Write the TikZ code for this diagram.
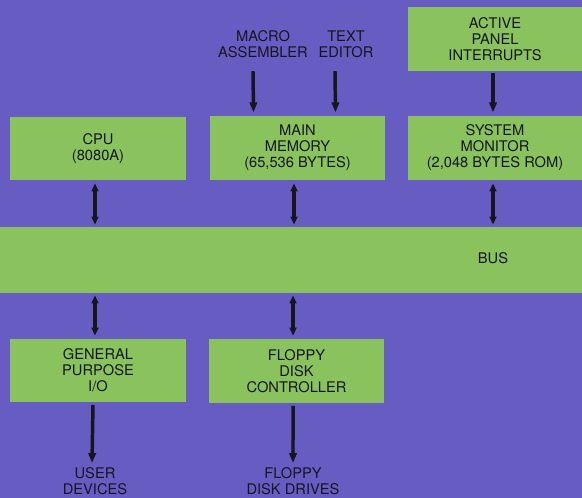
\documentclass[tikz,border=0pt]{standalone}
\usepackage{fontspec}
\setmainfont{TeX Gyre Heros}
\usetikzlibrary{arrows.meta}
\definecolor{bgblue}{RGB}{102,92,194}
\definecolor{boxgreen}{RGB}{138,194,94}
\definecolor{ink}{RGB}{22,22,32}
\begin{document}
\begin{tikzpicture}[x=0.75pt,y=-0.75pt,
  blk/.style={fill=boxgreen,draw=none,inner sep=0pt,align=center,text=ink,
    font=\fontsize{11}{12}\selectfont},
  lbl/.style={inner sep=0pt,align=center,text=ink,font=\fontsize{11}{12}\selectfont},
  ar/.style={draw=ink,line width=2.6pt,-{Triangle[length=7.5pt,width=5.5pt]}},
  dar/.style={draw=ink,line width=2.6pt,{Triangle[length=6pt,width=5pt]}-{Triangle[length=6pt,width=5pt]}}]
\fill[bgblue] (0,0) rectangle (582,498);
\useasboundingbox (0,0) rectangle (582,498);
% boxes
\node[blk,minimum width=132pt,minimum height=47.25pt] (cpu) at (98,148.5) {CPU\\(8080A)};
\node[blk,minimum width=131.25pt,minimum height=48pt] (mem) at (297.5,148) {MAIN\\MEMORY\\(65,536 BYTES)};
\node[blk,minimum width=130.5pt,minimum height=48pt] (mon) at (495,148) {SYSTEM\\MONITOR\\(2,048 BYTES ROM)};
\node[blk,minimum width=130.5pt,minimum height=48pt] (act) at (495,39) {ACTIVE\\PANEL\\INTERRUPTS};
\node[blk,minimum width=436.5pt,minimum height=49.5pt] (bus) at (291,260) {};
\node[lbl] (buslbl) at (493,258) {BUS};
\node[blk,minimum width=132pt,minimum height=47.25pt] (gpio) at (98,370.5) {GENERAL\\PURPOSE\\I/O};
\node[blk,minimum width=131.25pt,minimum height=48pt] (fdc) at (296.5,371) {FLOPPY\\DISK\\CONTROLLER};
% free labels
\node[lbl] (macro) at (263,44) {MACRO\\ASSEMBLER};
\node[lbl] (editor) at (346,44) {TEXT\\EDITOR};
\node[lbl] (user) at (95,481) {USER\\DEVICES};
\node[lbl] (drives) at (293,481) {FLOPPY\\DISK DRIVES};
% input arrows
\draw[ar] ([xshift=-7.5pt,yshift=-10pt]macro.south) -- ([xshift=-33pt,yshift=2.5pt]mem.north);
\draw[ar] ([xshift=-8.25pt,yshift=-10pt]editor.south) -- ([xshift=28.5pt,yshift=2.5pt]mem.north);
\draw[ar] ([xshift=-1.5pt,yshift=-1.5pt]act.south) -- ([xshift=-1.5pt,yshift=2.5pt]mon.north);
% bus connections
\draw[dar] ([xshift=-2.25pt,yshift=-2.25pt]cpu.south) -- ([xshift=-2.25pt,yshift=1.5pt]cpu.south |- bus.north);
\draw[dar] ([xshift=-2.6pt,yshift=-2.25pt]mem.south) -- ([xshift=-2.6pt,yshift=1.5pt]mem.south |- bus.north);
\draw[dar] ([xshift=-1.5pt,yshift=-2.25pt]mon.south) -- ([xshift=-1.5pt,yshift=1.5pt]mon.south |- bus.north);
\draw[dar] ([xshift=-2.25pt,yshift=-1.5pt]gpio.north |- bus.south) -- ([xshift=-2.25pt,yshift=2.25pt]gpio.north);
\draw[dar] ([xshift=-2.6pt,yshift=-1.5pt]fdc.north |- bus.south) -- ([xshift=-2.6pt,yshift=2.25pt]fdc.north);
% output arrows
\draw[ar] ([xshift=-3.75pt,yshift=-2pt]gpio.south) -- ([xshift=-2.25pt,yshift=3pt]user.north);
\draw[ar] ([xshift=-2.6pt,yshift=-2pt]fdc.south) -- ([yshift=3pt]drives.north);
\end{tikzpicture}
\end{document}
